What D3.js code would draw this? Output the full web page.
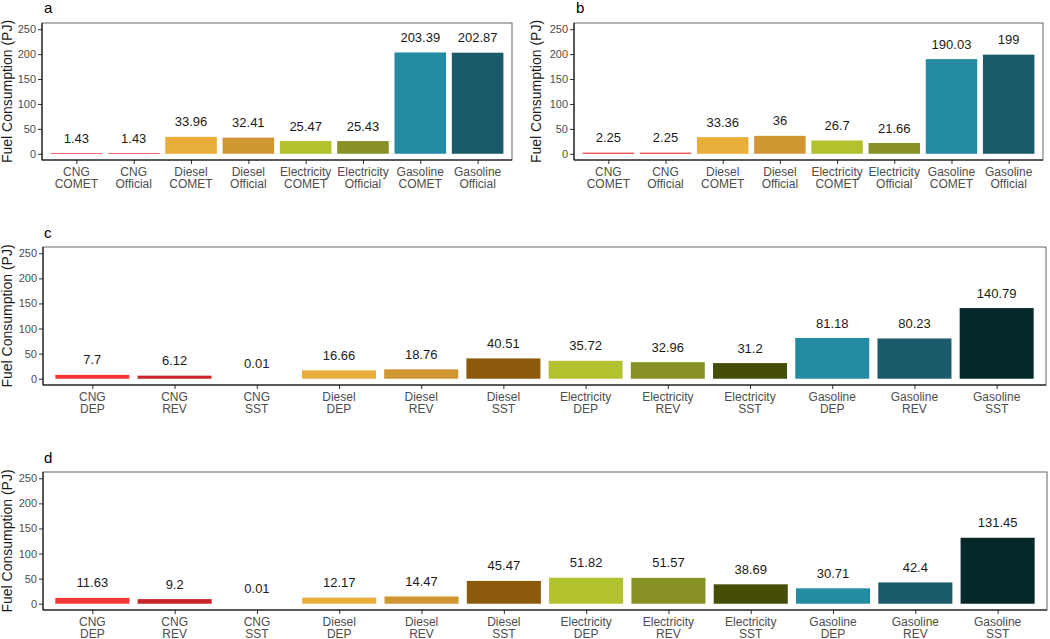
<!DOCTYPE html>
<html><head><meta charset="utf-8">
<script src="https://cdn.jsdelivr.net/npm/d3@7"></script>
<style>body{margin:0;background:#fff}svg{display:block;font-family:Arial,"Liberation Sans",sans-serif}</style>
</head><body>
<svg id="chart" width="1050" height="639"></svg>
<script>
// ---- data ----
const catsAB = ["CNG\nCOMET","CNG\nOfficial","Diesel\nCOMET","Diesel\nOfficial","Electricity\nCOMET","Electricity\nOfficial","Gasoline\nCOMET","Gasoline\nOfficial"];
const valuesA = [1.43, 1.43, 33.96, 32.41, 25.47, 25.43, 203.39, 202.87];
const valuesB = [2.25, 2.25, 33.36, 36, 26.7, 21.66, 190.03, 199];
const catsCD = ["CNG\nDEP","CNG\nREV","CNG\nSST","Diesel\nDEP","Diesel\nREV","Diesel\nSST","Electricity\nDEP","Electricity\nREV","Electricity\nSST","Gasoline\nDEP","Gasoline\nREV","Gasoline\nSST"];
const valuesC = [7.7, 6.12, 0.01, 16.66, 18.76, 40.51, 35.72, 32.96, 31.2, 81.18, 80.23, 140.79];
const valuesD = [11.63, 9.2, 0.01, 12.17, 14.47, 45.47, 51.82, 51.57, 38.69, 30.71, 42.4, 131.45];
const yTicks = [0, 50, 100, 150, 200, 250];
const colorsAB = ["#ee3030","#e8302e","#e9ad3a","#cf9632","#b1c22e","#879126","#248ba3","#1b5a6b"];
const colorsCD = ["#f43434","#c8232a","#a01c22","#e9ad3a","#cf9632","#8b5a0a","#b1c22e","#879126","#454d06","#248ba3","#1b5a6b","#06282b"];
const yTitle = "Fuel Consumption (PJ)";

const svg = d3.select("#chart");

function drawPanel(p) {
  const g = svg.append("g");
  // ggplot-like discrete axis: expand 0.6 units each side, bar width 0.9
  const n = p.cats.length;
  const unit = (p.right - p.left) / (n - 1 + 1.2);
  const xc = d3.scalePoint().domain(p.cats).range([p.left + 0.6*unit, p.right - 0.6*unit]);
  const bw = 0.9 * unit;
  const y = d3.scaleLinear().domain([-12.5, 262.5]).range([p.bottom, p.top]);

  // panel border
  g.append("rect").attr("x", p.left).attr("y", p.top).attr("width", p.right - p.left).attr("height", p.bottom - p.top)
    .attr("fill", "none").attr("stroke", "#666").attr("stroke-width", 1);

  // bars
  g.selectAll("rect.bar").data(p.values).join("rect").attr("class","bar")
    .attr("x", (d,i) => xc(p.cats[i]) - bw/2)
    .attr("width", bw)
    .attr("y", d => y(d))
    .attr("height", d => Math.max(0, y(0) - y(d)))
    .attr("fill", (d,i) => p.colors[i]);

  // value labels
  g.selectAll("text.val").data(p.values).join("text").attr("class","val")
    .attr("x", (d,i) => xc(p.cats[i]))
    .attr("y", d => y(d) - 15)
    .attr("dy", "0.35em")
    .attr("text-anchor", "middle")
    .attr("font-size", 13).attr("fill", "#1a1a1a")
    .text(d => d);

  // y axis
  const ya = g.append("g").attr("transform", `translate(${p.left},0)`)
    .call(d3.axisLeft(y).tickValues(yTicks).tickSize(4).tickPadding(2));
  ya.select(".domain").remove();
  ya.append("line").attr("x1",0).attr("x2",0).attr("y1",p.top).attr("y2",p.bottom).attr("stroke","#000");
  ya.selectAll(".tick line").attr("stroke","#333");
  ya.selectAll(".tick text").attr("font-size", 11).attr("fill","#4d4d4d").attr("font-family","Arial,'Liberation Sans',sans-serif");

  // x axis
  const xa = g.append("g").attr("transform", `translate(0,${p.bottom})`)
    .call(d3.axisBottom(xc).tickSize(4).tickFormat(""));
  xa.select(".domain").remove();
  xa.append("line").attr("x1",p.left).attr("x2",p.right).attr("y1",0).attr("y2",0).attr("stroke","#000");
  xa.selectAll(".tick line").attr("stroke","#333");
  p.cats.forEach(c => {
    const parts = c.split("\n");
    parts.forEach((s, k) => g.append("text").attr("text-anchor","middle").attr("font-size",12).attr("fill","#4d4d4d")
      .attr("x", xc(c)).attr("y", p.bottom + 16 + k*11.5).text(s));
  });

  // y title
  g.append("text").attr("transform", `translate(${p.titleX},${(p.top + p.bottom)/2}) rotate(-90)`)
    .attr("text-anchor","middle").attr("font-size",14).attr("fill","#1a1a1a").text(yTitle);

  // panel letter
  g.append("text").attr("x", p.tagX).attr("y", p.tagY).attr("font-size",15).attr("fill","#000").text(p.tag);
}

drawPanel({tag:"a", tagX:44, tagY:13, titleX:12, left:42, right:512, top:23, bottom:160, cats:catsAB, values:valuesA, colors:colorsAB});
drawPanel({tag:"b", tagX:576, tagY:13, titleX:541, left:574, right:1043, top:23, bottom:160, cats:catsAB, values:valuesB, colors:colorsAB});
drawPanel({tag:"c", tagX:44, tagY:238, titleX:12, left:43, right:1046, top:247, bottom:385, cats:catsCD, values:valuesC, colors:colorsCD});
drawPanel({tag:"d", tagX:44, tagY:463, titleX:12, left:43, right:1047, top:472, bottom:610, cats:catsCD, values:valuesD, colors:colorsCD});
</script>
</body></html>
